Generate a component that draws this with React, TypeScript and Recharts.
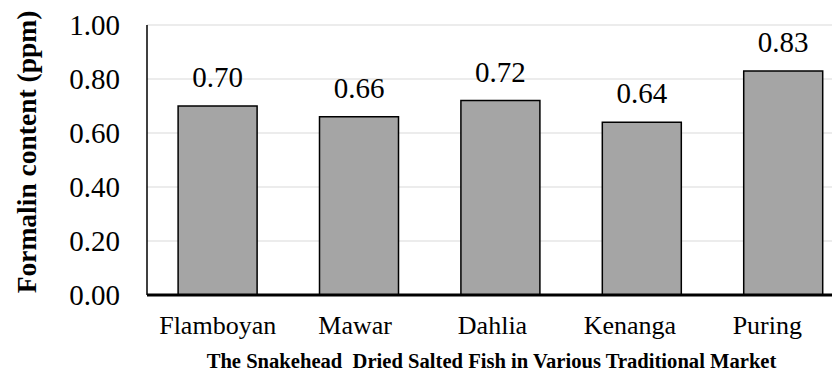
import React from "react";
import {
  BarChart,
  Bar,
  XAxis,
  YAxis,
  CartesianGrid,
  LabelList,
} from "recharts";

// Formalin content (ppm) of snakehead dried salted fish by market
const markets = ["Flamboyan", "Mawar", "Dahlia", "Kenanga", "Puring"];
const formalinPpm = [0.7, 0.66, 0.72, 0.64, 0.83];
const yTicks = [0, 0.2, 0.4, 0.6, 0.8, 1.0];

const data = markets.map((market, i) => ({ market, ppm: formalinPpm[i] }));

const FONT = "'Liberation Serif', 'Times New Roman', serif";

const YTitle = (props: any) => {
  const vb = props.viewBox || {};
  const cx = vb.x + 26;
  const cy = vb.y + vb.height / 2 - 8;
  return (
    <text
      x={cx}
      y={cy}
      transform={`rotate(-90, ${cx}, ${cy})`}
      textAnchor="middle"
      dominantBaseline="central"
      style={{ fontFamily: FONT, fontWeight: "bold", fontSize: 27.5 }}
      fill="#000"
    >
      Formalin content (ppm)
    </text>
  );
};

const XTitle = (props: any) => {
  const vb = props.viewBox || {};
  const cx = vb.x + vb.width / 2 - 9;
  return (
    <text
      x={cx}
      y={vb.y + 73}
      textAnchor="middle"
      fill="#000"
      style={{ whiteSpace: "pre", fontFamily: FONT, fontWeight: "bold", fontSize: 20.6 }}
    >
      {"The Snakehead  Dried Salted Fish in Various Traditional Market"}
    </text>
  );
};

const XTick = (props: any) => {
  const { x, y, payload } = props;
  return (
    <text
      x={x}
      y={y}
      dy="0.71em"
      textAnchor="middle"
      fill="#000"
      style={{ fontFamily: FONT, fontSize: 26 }}
    >
      {payload.value}
    </text>
  );
};

const YTick = (props: any) => {
  const { x, y, payload } = props;
  return (
    <text
      x={x}
      y={y}
      dy="0.355em"
      textAnchor="end"
      fill="#000"
      style={{ fontFamily: FONT, fontSize: 29 }}
    >
      {Number(payload.value).toFixed(2)}
    </text>
  );
};

const ValueLabel = (props: any) => {
  const { x, y, width, value } = props;
  return (
    <text
      x={Number(x) + Number(width) / 2}
      y={Number(y) - 19}
      textAnchor="middle"
      fill="#000"
      style={{ fontFamily: FONT, fontSize: 29 }}
    >
      {Number(value).toFixed(2)}
    </text>
  );
};

export default function App() {
  return (
    <div
      style={{
        margin: "-8px 0 0 -8px",
        width: 840,
        height: 374,
        overflow: "hidden",
        fontFamily: FONT,
      }}
    >
      <BarChart
        width={870}
        height={374}
        data={data}
        margin={{ top: 25, right: 16, bottom: 0, left: 0 }}
        barCategoryGap="22%"
      >
        <CartesianGrid
          xAxisId="bars"
          vertical={false}
          stroke="#e6e6e6"
          strokeWidth={1.5}
        />
        {/* category axis that positions the bars */}
        <XAxis xAxisId="bars" dataKey="market" hide height={0} />
        {/* category axis that carries the market names */}
        <XAxis
          xAxisId="labels"
          dataKey="market"
          height={79}
          padding={{ left: 2, right: 18 }}
          tickLine={false}
          tickSize={0}
          tickMargin={21}
          axisLine={{ stroke: "#000", strokeWidth: 3 }}
          tick={<XTick />}
          interval={0}
          label={<XTitle />}
        />
        <YAxis
          width={147}
          domain={[0, 1]}
          ticks={yTicks}
          tickLine={false}
          tickSize={0}
          tickMargin={27}
          axisLine={{ stroke: "#000", strokeWidth: 1.5 }}
          tick={<YTick />}
          label={<YTitle />}
        />
        <Bar
          xAxisId="bars"
          dataKey="ppm"
          fill="#a5a5a5"
          stroke="#000"
          strokeWidth={1.5}
          isAnimationActive={false}
        >
          <LabelList dataKey="ppm" content={<ValueLabel />} />
        </Bar>
      </BarChart>
    </div>
  );
}
